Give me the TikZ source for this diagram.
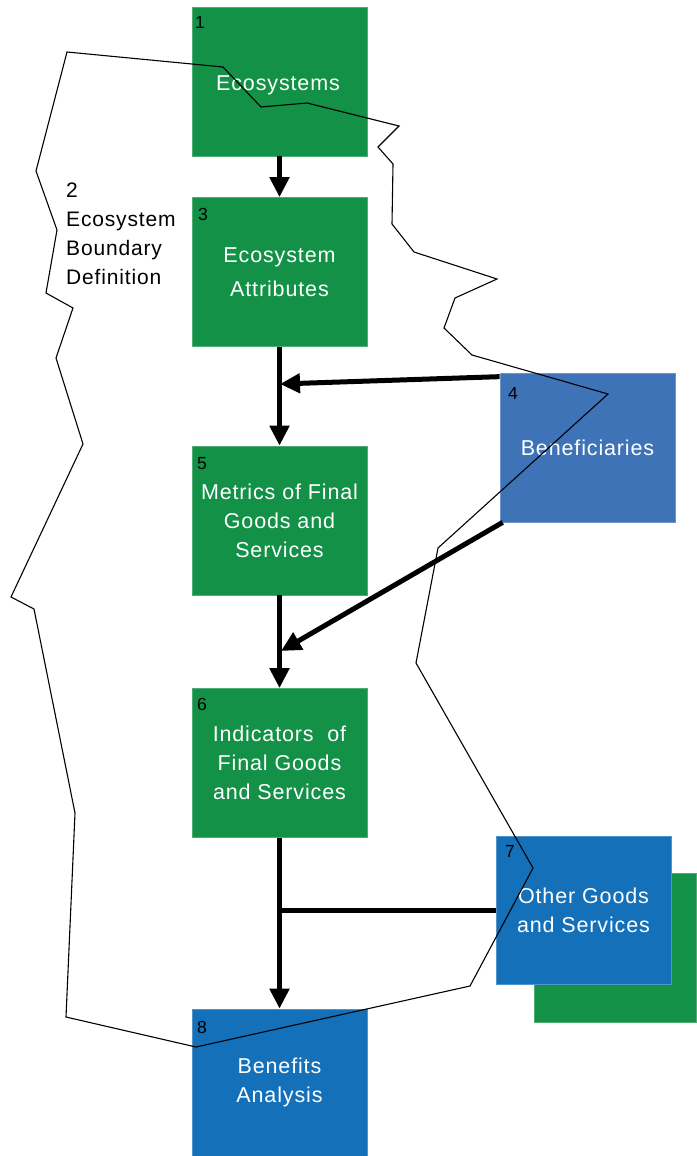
\documentclass[tikz,border=0pt]{standalone}
\usepackage{fontspec}
\setmainfont{Liberation Sans}
\newfontfamily\spacedfam[LetterSpace=4]{Liberation Sans}
\usetikzlibrary{arrows.meta}

\definecolor{ecogreen}{RGB}{18,145,71}
\definecolor{benblue}{RGB}{62,115,184}
\definecolor{deepblue}{RGB}{20,112,185}

\newcommand\boxfont{\spacedfam\fontsize{21.5}{29}\selectfont}
\newcommand\numfont{\fontsize{17.5}{20}\selectfont}
\newcommand\sidefont{\spacedfam\fontsize{21}{29}\selectfont}

\begin{document}
\begin{tikzpicture}[x=1pt,y=-1pt,
  stagebox/.style={fill=#1, draw=#1!75!white, line width=0.7pt,
    minimum width=175pt, minimum height=149pt, inner sep=0pt,
    text=white, align=center, font=\boxfont},
  stagetext/.style={inner sep=0pt, text=white, align=center, font=\boxfont},
  numtag/.style={anchor=base west, inner sep=0pt, font=\numfont},
  sidetext/.style={anchor=base west, inner sep=0pt, font=\sidefont},
  link/.style={line width=5pt, draw=black},
  arr/.style={link, -{Triangle[length=20pt,width=19pt]}},
  boundary/.style={line width=1.1pt, line join=miter}]

\useasboundingbox (0,0) rectangle (696,1156);

% green panel behind "Other Goods and Services"
\node[stagebox=ecogreen, minimum width=162pt, minimum height=149pt] (shadow7) at (615,947.5) {};

% main chain of stages
\node[stagebox=ecogreen] (b1) at (279.5,81.5) {};
\node[stagetext, anchor=base] (t1) at (278,90) {Ecosystems};
\node[stagebox=ecogreen, font=\spacedfam\fontsize{21.5}{34}\selectfont] (b3) at (279.5,272) {Ecosystem\\Attributes};
\node[stagebox=ecogreen] (b5) at (279.5,520.5) {Metrics of Final\\Goods and\\Services};
\node[stagebox=ecogreen] (b6) at (279.5,763) {Indicators\ \ of\\Final Goods\\and Services};
\node[stagebox=deepblue, minimum height=147pt] (b8) at (279.5,1082.5) {Benefits\\Analysis};

% side stages
\node[stagebox=benblue] (b4) at (587.5,447.5) {Beneficiaries};
\node[stagebox=deepblue, minimum height=148pt] (b7) at (583.5,910) {Other Goods\\and Services};

% stage numbers
\node[numtag] (n1) at (195,29) {1};
\node[numtag] (n3) at (198,220) {3};
\node[numtag] (n5) at (197,469) {5};
\node[numtag] (n6) at (197,710) {6};
\node[numtag] (n4) at (508,399) {4};
\node[numtag] (n7) at (505,857) {7};
\node[numtag] (n8) at (197,1033) {8};

% boundary label
\node[sidetext] (s2) at (66,197) {2};
\node[sidetext] (s2a) at (66,226) {Ecosystem};
\node[sidetext] (s2b) at (66,255) {Boundary};
\node[sidetext] (s2c) at (66,284) {Definition};

% junctions on the main flow
\coordinate (m1) at (280,384);
\coordinate (m2) at (281,651);

% connectors
\draw[arr] (b1.south) -- (b3.north);
\draw[arr] (b3.south) -- (b5.north);
\draw[arr] ([yshift=-4pt]b4.north west) -- (m1);
\draw[arr] (b5.south) -- (b6.north);
\draw[arr] ([xshift=3pt]b4.south west) -- (m2);
\draw[arr] (b6.south) -- (b8.north);
\draw[link] (b7.west) -- (b7.west -| b6.south);

% ecosystem boundary outline
\draw[boundary] (67,52) -- (223,67) -- (261,107) -- (307,103) -- (399,126)
  -- (378,147) -- (393,164) -- (392,224) -- (414,252) -- (497,279)
  -- (455,298) -- (444,328) -- (472,355) -- (608,394) -- (438,548)
  -- (416,663) -- (533,868) -- (470,986) -- (196,1047) -- (66,1017)
  -- (75,813) -- (34,609) -- (11,597) -- (83,444) -- (56,358)
  -- (73,308) -- (46,293) -- (57,230) -- (36,171) -- cycle;

\end{tikzpicture}
\end{document}
